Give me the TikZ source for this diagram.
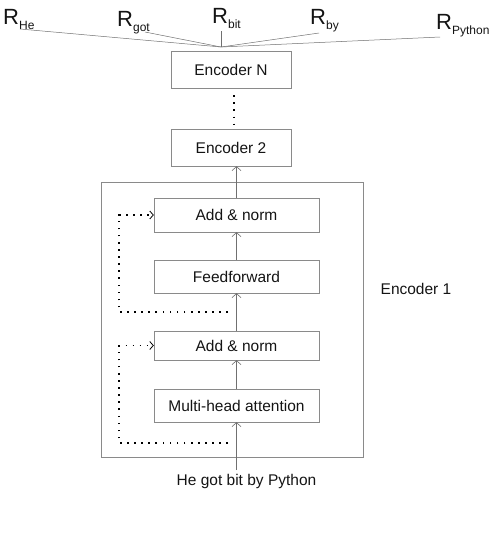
\documentclass[tikz,border=0pt]{standalone}
\usepackage{fontspec}
\setmainfont{Liberation Sans}
\usetikzlibrary{arrows.meta}
\definecolor{boxgray}{HTML}{8A8A8A}
\definecolor{wiregray}{HTML}{707070}
\definecolor{inkblack}{HTML}{141414}
\newcommand{\rlab}[1]{R\raisebox{-5pt}{\fontsize{12}{12}\selectfont #1}}
\tikzstyle{block} = [draw=boxgray, minimum width=165pt, minimum height=33pt, inner sep=0pt, text=inkblack, font=\fontsize{15.5}{18}\selectfont]
\tikzstyle{txt} = [text=inkblack, font=\fontsize{15.5}{18}\selectfont]
\tikzstyle{rlbl} = [inner sep=0pt, anchor=base west, text=inkblack, font=\fontsize{22}{24}\selectfont]
\tikzstyle{flow} = [draw=wiregray, line width=0.6pt]
\tikzstyle{wire} = [draw=wiregray, line width=0.5pt]
\tikzstyle{skip} = [draw=black, line width=1.6pt, dash pattern=on 1.6pt off 5.5pt]

\begin{document}
\begin{tikzpicture}[>={Straight Barb[length=4pt,width=9pt]}, x=1pt, y=-1pt]
	\useasboundingbox (0,0) rectangle (500,536);
	% outputs
	\node[rlbl] (rHe) at (3,24) {\rlab{He}};
	\node[rlbl] (rgot) at (117,26) {\rlab{got}};
	\node[rlbl] (rbit) at (212,23) {\rlab{bit}};
	\node[rlbl] (rby) at (310,24) {\rlab{by}};
	\node[rlbl] (rPython) at (436,29) {\rlab{Python}};
	\coordinate (hub) at (221,47);
	\coordinate (tHe) at (20,29);
	\coordinate (tgot) at (145,32);
	\coordinate (tbit) at (221,31);
	\coordinate (tby) at (319,33);
	\coordinate (tPython) at (440,37);
	\foreach \t in {tHe,tgot,tbit,tby,tPython}
		\draw[wire] (\t) -- (hub);
	% encoder stack
	\node[block, minimum width=120pt, minimum height=37pt] (encN) at (231,69.5) {Encoder N};
	\node[block, minimum width=120pt, minimum height=37pt] (enc2) at (231,147.5) {Encoder 2};
	\node[draw=boxgray, minimum width=262pt, minimum height=275pt, inner sep=0pt] (enc1) at (232,319.5) {};
	\node[txt] (enc1lbl) at (416,289) {Encoder 1};
	\node[block, minimum height=34pt] (addtop) at (236.5,215) {Add \& norm};
	\node[block] (ff) at (236.5,276.5) {Feedforward};
	\node[block, minimum height=29pt] (addbot) at (236.5,345.5) {Add \& norm};
	\node[block] (mha) at (236.5,405.5) {Multi-head attention};
	\node[txt] (input) at (246.5,481) {He got bit by Python};
	% main path
	\draw[flow,->] (mha.south |- input.north) -- (mha.south);
	\draw[flow,->] (mha) -- (addbot);
	\draw[flow,->] (addbot) -- (ff);
	\draw[flow,->] (ff) -- (addtop);
	\draw[flow,->] (addtop.north) -- (addtop.north |- enc2.south);
	\draw[skip, shorten <=7pt, shorten >=3pt] ([xshift=3pt]encN.south) -- ([xshift=3pt]enc2.north);
	% residual connections
	\coordinate (resA) at (228,443);
	\coordinate (cornA) at (119,443);
	\coordinate (resB) at (228,312);
	\coordinate (cornB) at (119,312);
	\draw[skip,->,>={Straight Barb[length=3.5pt,width=8pt,line width=0.8pt]}] (resA) -- (cornA) |- (addbot.west);
	\draw[skip,->,>={Straight Barb[length=3.5pt,width=8pt,line width=0.8pt]}] (resB) -- (cornB) |- (addtop.west);
\end{tikzpicture}
\end{document}
